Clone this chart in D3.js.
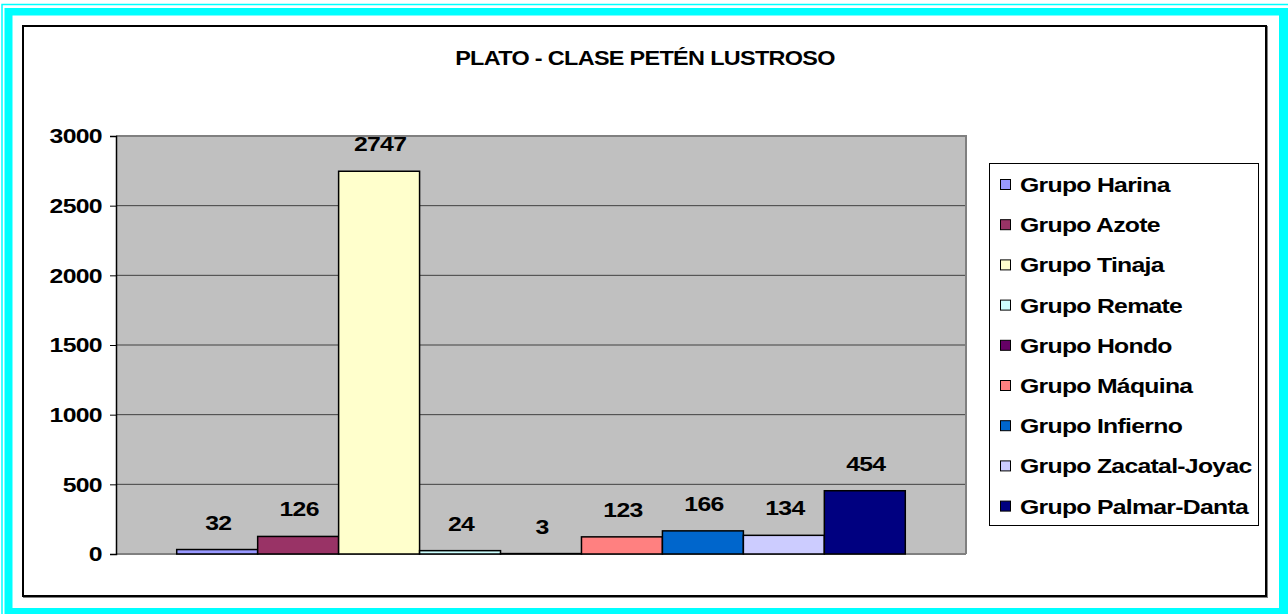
<!DOCTYPE html>
<html>
<head>
<meta charset="utf-8">
<script src="https://cdn.jsdelivr.net/npm/d3@7"></script>
<style>
  html, body { margin: 0; padding: 0; background: #fff; }
  svg { display: block; font-family: Arial, "Liberation Sans", sans-serif; font-weight: bold; }
</style>
</head>
<body>
<svg id="chart" width="1288" height="614"></svg>
<script>
const title = "PLATO - CLASE PETÉN LUSTROSO";
const seriesNames = ["Grupo Harina", "Grupo Azote", "Grupo Tinaja", "Grupo Remate", "Grupo Hondo",
  "Grupo Máquina", "Grupo Infierno", "Grupo Zacatal-Joyac", "Grupo Palmar-Danta"];
const seriesValues = [32, 126, 2747, 24, 3, 123, 166, 134, 454];
const seriesColors = ["#9999FF", "#993366", "#FFFFCC", "#CCFFFF", "#660066",
  "#FF8080", "#0066CC", "#CCCCFF", "#000080"];
const yTicks = [0, 500, 1000, 1500, 2000, 2500, 3000];

const SX = 1.18; // horizontal stretch of the reference text
const svg = d3.select("#chart");

function stretchedText(parent, x, y, str, anchor, sx) {
  return parent.append("text")
    .attr("transform", `translate(${x},${y}) scale(${sx},1)`)
    .attr("text-anchor", anchor).attr("font-size", 21).attr("letter-spacing", -0.6)
    .text(str);
}

// Cyan outer frame
svg.append("rect").attr("x", 2).attr("y", 4.5).attr("width", 1300).attr("height", 620)
  .attr("fill", "none").attr("stroke", "#00FFFF").attr("stroke-width", 1.5);
svg.append("path")
  .attr("d", "M4.5,8 H1288 V614 H4.5 Z M12.5,15.5 V608 H1279 V15.5 Z")
  .attr("fill", "#00FFFF").attr("fill-rule", "evenodd");

// Black chart frame with shadow
svg.append("rect").attr("x", 24).attr("y", 27).attr("width", 1243).attr("height", 570)
  .attr("fill", "none").attr("stroke", "#808080").attr("stroke-width", 2);
svg.append("rect").attr("x", 23).attr("y", 26).attr("width", 1243).attr("height", 570)
  .attr("fill", "#fff").attr("stroke", "#000").attr("stroke-width", 2);

// Title
stretchedText(svg, 645, 65, title, "middle", 1.115);

// Scales
const plot = { left: 116, right: 966, top: 136, bottom: 554 };
const x = d3.scaleBand().domain(seriesNames).range([plot.left, plot.right])
  .paddingInner(0).paddingOuter(0.75);
const y = d3.scaleLinear().domain([0, 3000]).range([plot.bottom, plot.top]);

// Plot background
svg.append("rect").attr("x", plot.left).attr("y", plot.top)
  .attr("width", plot.right - plot.left).attr("height", plot.bottom - plot.top)
  .attr("fill", "#C0C0C0");

// Gridlines
svg.append("g").selectAll("line").data(yTicks.filter(d => d > 0 && d < 3000)).join("line")
  .attr("x1", plot.left).attr("x2", plot.right)
  .attr("y1", d => y(d)).attr("y2", d => y(d))
  .attr("stroke", "#404040").attr("stroke-width", 1);

// Plot border (top/right gray)
svg.append("path")
  .attr("d", `M${plot.left},${plot.top} H${plot.right} V${plot.bottom}`)
  .attr("fill", "none").attr("stroke", "#808080").attr("stroke-width", 2);
svg.append("line").attr("x1", plot.left).attr("x2", plot.right)
  .attr("y1", plot.bottom).attr("y2", plot.bottom)
  .attr("stroke", "#808080").attr("stroke-width", 2);

// Y axis
const yAxis = d3.axisLeft(y).tickValues(yTicks).tickSize(6).tickPadding(6).tickFormat(d3.format("d"));
const ga = svg.append("g").attr("transform", `translate(${plot.left},0)`).call(yAxis);
ga.select(".domain").attr("stroke", "#000").attr("stroke-width", 1.5);
ga.selectAll(".tick line").attr("stroke", "#000");
ga.selectAll(".tick text").attr("font-size", 21).attr("font-family", "Arial, 'Liberation Sans', sans-serif")
  .attr("font-weight", "bold").attr("fill", "#000").attr("letter-spacing", -0.6)
  .attr("transform", `scale(${SX},1)`);

// Bars
const data = seriesNames.map((n, i) => ({ name: n, value: seriesValues[i], color: seriesColors[i] }));
svg.append("g").selectAll("rect").data(data).join("rect")
  .attr("x", d => x(d.name)).attr("width", x.bandwidth())
  .attr("y", d => y(d.value)).attr("height", d => y(0) - y(d.value))
  .attr("fill", d => d.color).attr("stroke", "#000").attr("stroke-width", 1.5);

// Data labels
const gl = svg.append("g");
data.forEach(d => stretchedText(gl, x(d.name) + x.bandwidth() / 2 + 1, y(d.value) - 20, d.value, "middle", SX));

// Legend
const lg = svg.append("g");
lg.append("rect").attr("x", 989.5).attr("y", 163.5).attr("width", 269).attr("height", 362)
  .attr("fill", "#fff").attr("stroke", "#000").attr("stroke-width", 1);
data.forEach((d, i) => {
  const cy = 184 + i * 40.2;
  lg.append("rect").attr("x", 1000.5).attr("y", cy - 4.5).attr("width", 10).attr("height", 10)
    .attr("fill", d.color).attr("stroke", "#000").attr("stroke-width", 1);
  stretchedText(lg, 1020, cy + 8, d.name, "start", SX);
});
</script>
</body>
</html>
